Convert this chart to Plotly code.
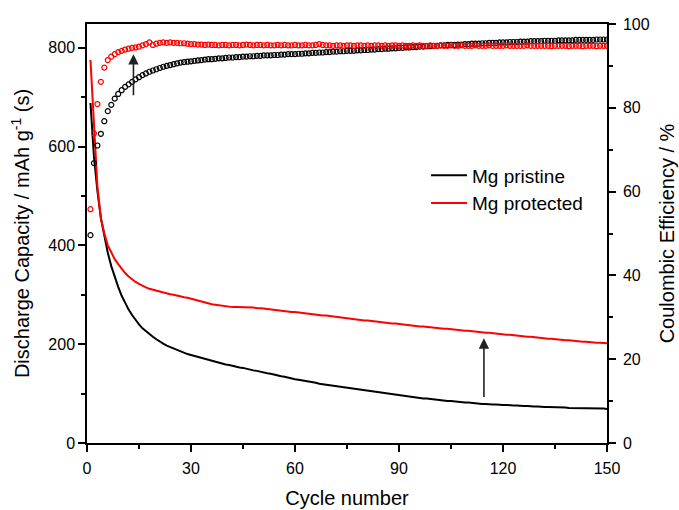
import plotly.graph_objects as go

cycles = list(range(1, 151))

cap_pristine = [
    688, 580, 510, 455, 420, 385, 358, 336, 316, 298,
    283, 270, 259, 249, 240, 232, 226, 220, 215, 210,
    205, 201, 197, 194, 191, 188, 185, 183, 180, 178,
    176, 174, 172, 170, 168, 166, 164, 162, 161, 159,
    158, 156, 155, 153, 152, 150, 149, 147, 146, 144,
    143, 141, 140, 138, 137, 135, 134, 132, 131, 129,
    128, 127, 125, 124, 123, 122, 120, 119, 118, 117,
    116, 114, 113, 112, 111, 110, 109, 108, 107, 106,
    105, 104, 103, 102, 101, 100, 99, 98, 97, 96,
    95, 94, 93, 93, 92, 91, 90, 90, 89, 88,
    87, 87, 86, 85, 85, 84, 83, 83, 82, 82,
    81, 80, 80, 79, 79, 78, 78, 78, 77, 77,
    77, 76, 76, 76, 75, 75, 75, 74, 74, 74,
    73, 73, 73, 73, 72, 72, 72, 72, 71, 71,
    71, 71, 71, 70, 70, 70, 70, 70, 70, 69,
]

cap_protected = [
    775, 640, 520, 455, 424, 400, 385, 372, 362, 352,
    344, 337, 331, 326, 322, 318, 315, 312, 310, 308,
    306, 304, 303, 301, 300, 298, 297, 295, 294, 292,
    290, 288, 287, 285, 283, 281, 280, 279, 277, 276,
    276, 275, 275, 275, 275, 274, 274, 274, 273, 273,
    272, 271, 270, 269, 268, 267, 266, 266, 265, 265,
    264, 263, 263, 262, 261, 260, 259, 258, 258, 257,
    256, 255, 254, 253, 253, 252, 251, 250, 249, 248,
    248, 247, 246, 245, 245, 244, 243, 242, 242, 241,
    240, 239, 239, 238, 237, 236, 236, 235, 234, 234,
    233, 232, 231, 231, 230, 229, 229, 228, 227, 227,
    226, 225, 225, 224, 223, 223, 222, 221, 221, 220,
    219, 219, 218, 217, 217, 216, 215, 215, 214, 213,
    213, 212, 211, 211, 210, 210, 209, 208, 208, 207,
    207, 206, 205, 205, 204, 204, 203, 203, 202, 202,
]

ce_pristine = [
    49.6, 66.8, 71.0, 73.8, 76.8, 79.2, 80.7, 82.2, 83.3, 84.2,
    85.0, 85.6, 86.2, 86.8, 87.3, 87.8, 88.2, 88.6, 88.9, 89.2,
    89.5, 89.8, 90.0, 90.2, 90.4, 90.6, 90.8, 90.9, 91.0, 91.1,
    91.2, 91.3, 91.4, 91.5, 91.6, 91.6, 91.7, 91.8, 91.8, 91.9,
    92.0, 92.0, 92.1, 92.1, 92.2, 92.2, 92.3, 92.3, 92.4, 92.4,
    92.5, 92.5, 92.5, 92.6, 92.6, 92.7, 92.7, 92.8, 92.8, 92.8,
    92.9, 92.9, 93.0, 93.0, 93.1, 93.1, 93.2, 93.2, 93.3, 93.3,
    93.4, 93.4, 93.5, 93.5, 93.6, 93.6, 93.6, 93.7, 93.7, 93.8,
    93.8, 93.9, 93.9, 94.0, 94.0, 94.1, 94.1, 94.2, 94.2, 94.3,
    94.3, 94.4, 94.4, 94.5, 94.5, 94.6, 94.6, 94.7, 94.7, 94.8,
    94.8, 94.9, 94.9, 95.0, 95.0, 95.0, 95.1, 95.1, 95.2, 95.2,
    95.3, 95.3, 95.3, 95.4, 95.4, 95.5, 95.5, 95.5, 95.6, 95.6,
    95.6, 95.7, 95.7, 95.7, 95.8, 95.8, 95.8, 95.9, 95.9, 95.9,
    95.9, 96.0, 96.0, 96.0, 96.0, 96.1, 96.1, 96.1, 96.1, 96.1,
    96.2, 96.2, 96.2, 96.2, 96.2, 96.2, 96.3, 96.3, 96.3, 96.3,
]

ce_protected = [
    55.8, 73.9, 80.9, 86.2, 89.6, 91.4, 92.2, 92.8, 93.3, 93.6,
    93.9, 94.1, 94.3, 94.4, 94.6, 94.9, 95.2, 95.6, 95.0, 95.3,
    95.5, 95.6, 95.5, 95.6, 95.5, 95.5, 95.4, 95.4, 95.3, 95.2,
    95.2, 95.1, 95.1, 95.0, 95.1, 95.0, 95.0, 94.9, 95.0, 95.0,
    94.9, 95.0, 95.0, 94.9, 95.0, 95.1, 95.0, 94.9, 95.0, 95.0,
    94.9, 95.0, 94.9, 94.9, 95.0, 94.9, 95.0, 94.9, 94.9, 95.0,
    94.9, 94.9, 95.0, 94.9, 94.9, 95.0, 95.2, 95.0, 94.9, 94.9,
    94.8, 94.9, 94.9, 94.8, 94.9, 94.9, 94.8, 94.9, 94.9, 94.8,
    94.9, 94.8, 94.9, 94.9, 94.8, 94.9, 94.8, 94.9, 94.9, 94.8,
    94.9, 94.8, 94.8, 94.9, 94.8, 94.9, 94.8, 94.8, 94.9, 94.8,
    94.8, 94.9, 94.8, 94.8, 94.9, 94.8, 94.8, 94.9, 94.8, 94.8,
    94.8, 94.9, 94.8, 94.8, 94.8, 94.9, 94.8, 94.8, 94.8, 94.8,
    94.9, 94.8, 94.8, 94.8, 94.8, 94.8, 94.9, 94.8, 94.8, 94.8,
    94.8, 94.8, 94.8, 94.7, 94.8, 94.8, 94.8, 94.8, 94.7, 94.8,
    94.8, 94.8, 94.7, 94.8, 94.8, 94.8, 94.7, 94.8, 94.8, 94.8,
]

series_names = ["Mg pristine", "Mg protected"]
series_colors = ["#000000", "#ff0000"]

# arrows (tail -> tip) in data coordinates of left axis
arrow_ce = dict(x=13.4, tail=701, tip=787)
arrow_cap = dict(x=114.5, tail=90, tip=212)

FONT = "Liberation Sans, Arial, sans-serif"

fig = go.Figure()

for name, color, cap in zip(series_names, series_colors, [cap_pristine, cap_protected]):
    fig.add_trace(go.Scatter(x=cycles, y=cap, mode="lines", name=name,
                             line=dict(color=color, width=2), yaxis="y"))

for name, color, ce in zip(series_names, series_colors, [ce_pristine, ce_protected]):
    fig.add_trace(go.Scatter(x=cycles, y=ce, mode="markers", name=name + " CE",
                             showlegend=False, yaxis="y2",
                             marker=dict(symbol="circle-open", size=5,
                                         color=color, line=dict(width=1.2, color=color))))

for a in (arrow_ce, arrow_cap):
    fig.add_annotation(x=a["x"], y=a["tip"], ax=a["x"], ay=a["tail"],
                       xref="x", yref="y", axref="x", ayref="y",
                       text="", showarrow=True, arrowhead=2, arrowsize=1.3,
                       arrowwidth=1.6, arrowcolor="#222222", standoff=0)

axis_common = dict(showline=True, linecolor="black", linewidth=1.5,
                   ticks="outside", ticklen=7, tickwidth=1.5, tickcolor="black",
                   showgrid=False, zeroline=False, automargin=False,
                   tickfont=dict(family=FONT, size=16, color="black"))

fig.update_layout(
    width=679, height=510,
    margin=dict(l=87, r=72, t=24, b=67),
    paper_bgcolor="white", plot_bgcolor="white",
    font=dict(family=FONT, color="black"),
    showlegend=True,
    legend=dict(x=0.652, y=0.684, xanchor="left", yanchor="top",
                font=dict(family=FONT, size=19, color="black"),
                itemwidth=36,
                bgcolor="rgba(0,0,0,0)", tracegroupgap=0),
    xaxis=dict(range=[0, 150], tickvals=[0, 30, 60, 90, 120, 150], mirror=True,
               ticklabelstandoff=3,
               minor=dict(tickvals=[15, 45, 75, 105, 135], ticks="outside", ticklen=4,
                          tickwidth=1.5, tickcolor="black"),
               title=dict(text="Cycle number", font=dict(family=FONT, size=20), standoff=15),
               **axis_common),
    yaxis=dict(range=[0, 848], tickvals=[0, 200, 400, 600, 800],
               minor=dict(tickvals=[100, 300, 500, 700], ticks="outside", ticklen=4,
                          tickwidth=1.5, tickcolor="black"),
               title=dict(text="Discharge Capacity / mAh g<sup>-1</sup> (s)",
                          font=dict(family=FONT, size=20), standoff=13),
               **axis_common),
    yaxis2=dict(range=[0, 100], overlaying="y", side="right",
                tickvals=[0, 20, 40, 60, 80, 100], ticklabelstandoff=4,
                minor=dict(tickvals=[10, 30, 50, 70, 90], ticks="outside", ticklen=4,
                           tickwidth=1.5, tickcolor="black"),
                title=dict(text="Coulombic Efficiency / %",
                           font=dict(family=FONT, size=20), standoff=11),
                **axis_common),
)

fig.write_html("out.html", config={"displayModeBar": False},
               post_script="document.body.style.margin='0';document.body.style.overflow='hidden';")
